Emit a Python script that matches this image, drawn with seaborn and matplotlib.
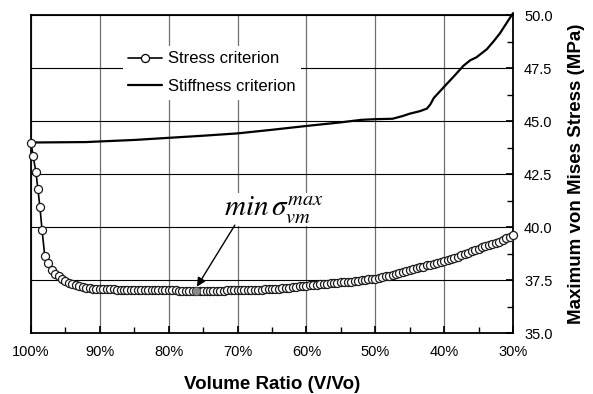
import matplotlib
matplotlib.use('Agg')
import matplotlib.pyplot as plt
import seaborn as sns
import pandas as pd
from matplotlib.ticker import MultipleLocator, FuncFormatter
from matplotlib.lines import Line2D

# ---------------- data ----------------
stress_x = [100, 99.7, 99.3, 99.0, 98.7, 98.4,
            98.0, 97.5, 97.0, 96.5, 96.0, 95.5, 95.0, 94.5, 94.0, 93.5,
            93.0, 92.5, 92.0, 91.5, 91.0, 90.5, 90.0, 89.5, 89.0, 88.5,
            88.0, 87.5, 87.0, 86.5, 86.0, 85.5, 85.0, 84.5, 84.0, 83.5,
            83.0, 82.5, 82.0, 81.5, 81.0, 80.5, 80.0, 79.5, 79.0, 78.5,
            78.0, 77.5, 77.0, 76.5, 76.0, 75.5, 75.0, 74.5, 74.0, 73.5,
            73.0, 72.5, 72.0, 71.5, 71.0, 70.5, 70.0, 69.5, 69.0, 68.5,
            68.0, 67.5, 67.0, 66.5, 66.0, 65.5, 65.0, 64.5, 64.0, 63.5,
            63.0, 62.5, 62.0, 61.5, 61.0, 60.5, 60.0, 59.5, 59.0, 58.5,
            58.0, 57.5, 57.0, 56.5, 56.0, 55.5, 55.0, 54.5, 54.0, 53.5,
            53.0, 52.5, 52.0, 51.5, 51.0, 50.5, 50.0, 49.5, 49.0, 48.5,
            48.0, 47.5, 47.0, 46.5, 46.0, 45.5, 45.0, 44.5, 44.0, 43.5,
            43.0, 42.5, 42.0, 41.5, 41.0, 40.5, 40.0, 39.5, 39.0, 38.5,
            38.0, 37.5, 37.0, 36.5, 36.0, 35.5, 35.0, 34.5, 34.0, 33.5,
            33.0, 32.5, 32.0, 31.5, 31.0, 30.5, 30.0]
stress_y = [44.00, 43.37, 42.63, 41.81, 40.94, 39.89,
            38.64, 38.30, 38.00, 37.82, 37.68, 37.56, 37.47, 37.39, 37.32, 37.26,
            37.22, 37.18, 37.15, 37.13, 37.11, 37.10, 37.09, 37.08, 37.08, 37.07,
            37.07, 37.06, 37.06, 37.06, 37.05, 37.05, 37.05, 37.04, 37.04, 37.04,
            37.04, 37.03, 37.03, 37.03, 37.03, 37.02, 37.02, 37.02, 37.02, 37.01,
            37.01, 37.01, 37.01, 37.00, 37.00, 37.00, 37.00, 37.00, 37.00, 37.01,
            37.01, 37.01, 37.01, 37.02, 37.02, 37.02, 37.03, 37.03, 37.04, 37.04,
            37.05, 37.05, 37.06, 37.06, 37.07, 37.08, 37.09, 37.10, 37.11, 37.13,
            37.14, 37.16, 37.17, 37.19, 37.21, 37.23, 37.25, 37.26, 37.28, 37.29,
            37.31, 37.32, 37.34, 37.35, 37.37, 37.38, 37.40, 37.41, 37.42, 37.44,
            37.46, 37.48, 37.50, 37.52, 37.54, 37.55, 37.57, 37.61, 37.64, 37.68,
            37.72, 37.76, 37.81, 37.85, 37.90, 37.94, 37.98, 38.03, 38.07, 38.11,
            38.15, 38.20, 38.24, 38.28, 38.32, 38.36, 38.40, 38.45, 38.51, 38.56,
            38.62, 38.68, 38.74, 38.80, 38.86, 38.93, 39.00, 39.05, 39.10, 39.16,
            39.21, 39.27, 39.32, 39.40, 39.48, 39.56, 39.65]

stiff_x = [100, 92, 90, 85, 80, 75, 70, 65, 60, 55, 52, 50, 47.5, 46, 45,
           43.5, 42.5, 42, 41.5, 40, 38.5, 37.2, 36.2, 35.3, 33.8, 32.8, 31.9, 30]
stiff_y = [44.0, 44.02, 44.05, 44.12, 44.22, 44.32, 44.43, 44.6, 44.78, 44.95,
           45.07, 45.1, 45.12, 45.25, 45.36, 45.48, 45.6, 45.8, 46.1, 46.63, 47.15,
           47.62, 47.88, 48.02, 48.4, 48.78, 49.15, 50.1]

min_x = [76.0]
min_y = [37.0]

series_labels = ["Stress criterion", "Stiffness criterion"]
x_label = "Volume Ratio (V/Vo)"
y_label = "Maximum von Mises Stress (MPa)"
annot_text = r"$min\,\sigma^{max}_{vm}$"

# ---------------- style ----------------
sns.set_theme(style='white', rc={'axes.edgecolor': 'black', 'text.color': 'black',
                                 'axes.labelcolor': 'black', 'xtick.color': 'black',
                                 'ytick.color': 'black'})
plt.rcParams['font.family'] = ['Liberation Sans', 'DejaVu Sans']
plt.rcParams['mathtext.fontset'] = 'stix'

fig = plt.figure(figsize=(5.93, 3.94), dpi=100)
ax = fig.add_axes([31 / 593, 1 - 333.3 / 394, 482 / 593, 318 / 394])

stress_df = pd.DataFrame({'x': stress_x, 'y': stress_y})
stiff_df = pd.DataFrame({'x': stiff_x, 'y': stiff_y})
min_df = pd.DataFrame({'x': min_x, 'y': min_y})

sns.lineplot(data=stiff_df, x='x', y='y', ax=ax, color='black', lw=1.6,
             sort=False, estimator=None, zorder=3, clip_on=False)
sns.lineplot(data=stress_df, x='x', y='y', ax=ax, color='black', lw=1.2,
             marker='o', markersize=5.8, markerfacecolor='white',
             markeredgecolor='#1a1a1a', markeredgewidth=0.9,
             sort=False, estimator=None, zorder=3, clip_on=False)
sns.scatterplot(data=min_df, x='x', y='y', ax=ax, s=36, color='#8a8a8a',
                edgecolor='#444444', linewidth=0.6, zorder=4)

ax.set_xlim(100, 30)
ax.set_ylim(35, 50)
ax.xaxis.set_major_locator(MultipleLocator(10))
ax.xaxis.set_minor_locator(MultipleLocator(5))
ax.xaxis.set_major_formatter(FuncFormatter(lambda v, p: f"{v:.0f}%"))
ax.yaxis.set_major_locator(MultipleLocator(2.5))
ax.yaxis.set_minor_locator(MultipleLocator(1.25))
ax.yaxis.set_major_formatter(FuncFormatter(lambda v, p: f"{v:.1f}"))
ax.yaxis.tick_right()
ax.yaxis.set_label_position('right')

ax.tick_params(axis='x', which='both', direction='in', bottom=True, top=False)
ax.tick_params(axis='x', which='major', length=5, pad=8.5, labelsize=10.5)
ax.tick_params(axis='x', which='minor', length=4)
ax.tick_params(axis='y', which='both', direction='in', left=False, right=True)
ax.tick_params(axis='y', which='major', length=5, pad=8, labelsize=10.5)
ax.tick_params(axis='y', which='minor', length=4)

for s in ax.spines.values():
    s.set_color('black')
    s.set_linewidth(1.3)

ax.set_axisbelow(True)
ax.xaxis.grid(True, which='major', color='#707070', lw=0.9)
ax.yaxis.grid(True, which='major', color='black', lw=0.8)

ax.set_xlabel(x_label, fontsize=13.5, fontweight='bold', labelpad=12)
ax.set_ylabel(y_label, fontsize=13.5, fontweight='bold', labelpad=11)

handles = [Line2D([], [], color='black', lw=1.2, marker='o', markersize=5.8,
                  markerfacecolor='white', markeredgecolor='black', markeredgewidth=0.9),
           Line2D([], [], color='black', lw=1.6)]
leg = ax.legend(handles, series_labels, loc='upper left', bbox_to_anchor=(0.19, 0.905),
                fontsize=12, frameon=True, facecolor='white', edgecolor='none',
                framealpha=1, fancybox=False, handlelength=2.0, handletextpad=0.35,
                labelspacing=0.75, borderpad=0.35, borderaxespad=0)
leg.set_zorder(5)

ax.text(71.97, 40.58, annot_text, fontsize=21, ha='left', va='baseline',
        bbox=dict(facecolor='white', edgecolor='none', pad=1), zorder=4)
ax.annotate('', xy=(75.9, 37.2), xytext=(70.4, 40.1),
            arrowprops=dict(arrowstyle='-|>', color='black', lw=1.0,
                            mutation_scale=13, shrinkA=0, shrinkB=0), zorder=6)

fig.savefig('out.png', dpi=100)
